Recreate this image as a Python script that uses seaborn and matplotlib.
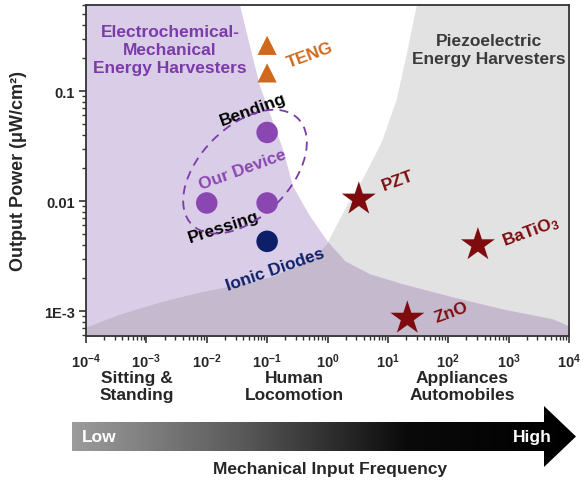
import matplotlib
matplotlib.use("Agg")
import matplotlib.pyplot as plt
import matplotlib.transforms as mtransforms
from matplotlib.collections import LineCollection
from matplotlib.colors import LinearSegmentedColormap
from matplotlib.patches import Ellipse, Polygon
from matplotlib.ticker import NullLocator
import numpy as np
import seaborn as sns

# ---- marker data (frequency in Hz, power in uW/cm2) ----
teng_freq = [0.1, 0.1]
teng_power = [0.26, 0.146]
device_freq = [0.1, 0.01, 0.1]
device_power = [0.042, 0.0096, 0.0096]
diode_freq = [0.1]
diode_power = [0.0043]
piezo_names = ["PZT", "BaTiO$_3$", "ZnO"]
piezo_freq = [3.3, 310, 21]
piezo_power = [0.0104, 0.004, 0.00086]

# ---- region boundaries ----
echem_edge_freq = [0.028, 0.0355, 0.052, 0.076, 0.12, 0.183, 0.267, 0.512, 1.02]
echem_edge_power = [1.0, 0.605, 0.256, 0.111, 0.0556, 0.0297, 0.0137, 0.0073, 0.00424]
echem_floor_freq = [1.02, 1.94, 5.03, 17.7, 119, 802, 5400, 10000, 20000]
echem_floor_power = [0.00424, 0.00285, 0.00217, 0.00176, 0.00134, 0.00104, 0.000846, 0.000731, 0.000731]
piezo_edge_freq = [36.5, 30.2, 21.4, 14.1, 7.96, 3.85, 2.09, 1.02]
piezo_edge_power = [1.0, 0.605, 0.241, 0.0846, 0.0344, 0.0158, 0.0090, 0.00424]
piezo_floor_freq = [1e-5, 1e-4, 3.66e-4, 1.68e-3, 7.7e-3, 0.0355, 0.111, 0.288, 0.618, 1.02]
piezo_floor_power = [0.000716, 0.000716, 0.00094, 0.00121, 0.00149, 0.00176, 0.00204, 0.00251, 0.00316, 0.00424]

xtick_vals = [1e-4, 1e-3, 1e-2, 1e-1, 1e0, 1e1, 1e2, 1e3, 1e4]
xtick_labels = [r"$\mathbf{10^{%d}}$" % e for e in range(-4, 5)]
ytick_vals = [1e-3, 1e-2, 1e-1]
ytick_labels = ["1E-3", "0.01", "0.1"]
category_labels = ["Sitting &\nStanding", "Human\nLocomotion", "Appliances\nAutomobiles"]

purple_bg = "#dacde7"
gray_bg = "#e2e2e2"
overlap_bg = "#c5b9cd"
purple = "#8a46b1"
purple_text = "#7b3bab"
navy = "#0c1f68"
orange = "#d0691d"
darkred = "#7e0c0e"
axis_col = "#333333"

sns.set_theme(style="ticks")
plt.rcParams["font.family"] = ["Liberation Sans", "DejaVu Sans"]
plt.rcParams["font.weight"] = "bold"
plt.rcParams["mathtext.fontset"] = "custom"
plt.rcParams["mathtext.rm"] = "Liberation Sans:bold"
plt.rcParams["mathtext.bf"] = "Liberation Sans:bold"
plt.rcParams["mathtext.it"] = "Liberation Sans:bold"

fig = plt.figure(figsize=(5.85, 4.85), dpi=100)
ax = fig.add_axes([86 / 585, 1 - 337 / 485, 483 / 585, 331 / 485])
ax.set_xscale("log")
ax.set_yscale("log")
ax.set_xlim(1e-4, 1e4)
ax.set_ylim(5.93e-4, 0.605)

# background regions
gray_x = [20000] + piezo_edge_freq + piezo_floor_freq[::-1][1:] + [1e-5, 20000]
gray_y = [1.0] + piezo_edge_power + piezo_floor_power[::-1][1:] + [1e-4, 1e-4]
ax.fill(gray_x, gray_y, color=gray_bg, lw=0, zorder=0)
purple_x = [1e-5] + echem_edge_freq + echem_floor_freq[1:] + [20000, 1e-5]
purple_y = [1.0] + echem_edge_power + echem_floor_power[1:] + [1e-4, 1e-4]
ax.fill(purple_x, purple_y, color=purple_bg, lw=0, zorder=0.5)
floor_x = piezo_floor_freq + echem_floor_freq[1:]
floor_y = piezo_floor_power + echem_floor_power[1:]
ax.fill_between(floor_x, 1e-4, floor_y, color=overlap_bg, lw=0, zorder=1)

# markers
sns.scatterplot(x=teng_freq, y=teng_power, marker="^", s=190, color=orange,
                edgecolor="none", ax=ax, zorder=5)
sns.scatterplot(x=device_freq, y=device_power, marker="o", s=240, color=purple,
                edgecolor="none", ax=ax, zorder=5)
sns.scatterplot(x=diode_freq, y=diode_power, marker="o", s=240, color=navy,
                edgecolor="none", ax=ax, zorder=5)
sns.scatterplot(x=piezo_freq, y=piezo_power, marker="*", s=660, color=darkred,
                edgecolor="none", ax=ax, zorder=5)

# dashed ellipse around our device (size in inches, centre in data)
ell_tr = fig.dpi_scale_trans + mtransforms.ScaledTranslation(0.043, 0.0185, ax.transData)
ax.add_patch(Ellipse((0, 0), 1.5, 0.9, angle=45, fill=False, ec=purple_text, lw=1.3,
                     ls=(0, (5, 3.5)), transform=ell_tr, zorder=4))

rot = 20
fs = 12.5
ax.annotate("TENG", (teng_freq[0], teng_power[0]), xytext=(31, -6.5), textcoords="offset points",
            ha="center", va="center", rotation=rot, color=orange, fontsize=fs, fontweight="bold")
ax.annotate("Bending", (device_freq[0], device_power[0]), xytext=(-10, 16.5), textcoords="offset points",
            ha="center", va="center", rotation=rot, color="black", fontsize=fs, fontweight="bold")
ax.annotate("Our Device", (device_freq[0], device_power[0]), xytext=(-18, -26.5), textcoords="offset points",
            ha="center", va="center", rotation=rot, color=purple, fontsize=fs, fontweight="bold")
ax.annotate("Pressing", (device_freq[2], device_power[2]), xytext=(-31, -17), textcoords="offset points",
            ha="center", va="center", rotation=18, color="black", fontsize=fs, fontweight="bold")
ax.annotate("Ionic Diodes", (diode_freq[0], diode_power[0]), xytext=(6, -20), textcoords="offset points",
            ha="center", va="center", rotation=19, color=navy, fontsize=fs, fontweight="bold")
piezo_offsets = [(28, 13.5), (38, 10), (32, 4.5)]
for name, fx, py, off in zip(piezo_names, piezo_freq, piezo_power, piezo_offsets):
    ax.annotate(name, (fx, py), xytext=off, textcoords="offset points", ha="center", va="center",
                rotation=rot, color=darkred, fontsize=fs, fontweight="bold")

ax.text(0.174, 0.867, "Electrochemical-\nMechanical\nEnergy Harvesters", transform=ax.transAxes,
        ha="center", va="center", color=purple_text, fontsize=fs, fontweight="bold",
        linespacing=1.25, zorder=6)
ax.text(0.834, 0.867, "Piezoelectric\nEnergy Harvesters", transform=ax.transAxes,
        ha="center", va="center", color="#3b3b3b", fontsize=fs, fontweight="bold",
        linespacing=1.25, zorder=6)

# axes styling
ax.set_xticks(xtick_vals)
ax.set_xticklabels(xtick_labels, fontsize=10.5)
ax.set_yticks(ytick_vals)
ax.set_yticklabels(ytick_labels, fontsize=10.5, fontweight="bold")
ax.xaxis.set_minor_locator(NullLocator())
ax.yaxis.set_minor_locator(NullLocator())
ax.tick_params(which="major", direction="out", length=5, width=1.2, color=axis_col, pad=3)
ax.tick_params(axis="x", which="major", pad=6)
for sp in ax.spines.values():
    sp.set_visible(True)
    sp.set_color(axis_col)
    sp.set_linewidth(1.3)

# minor ticks drawn as short outward strokes
x_minor = [k * 10.0 ** e for e in range(-4, 4) for k in range(2, 10)]
y_minor = [k * 10.0 ** e for e in range(-4, 0) for k in range(2, 10)]
y_minor = [v for v in y_minor if 5.93e-4 <= v <= 0.605]
ax.add_collection(LineCollection([[(v, 0), (v, -0.011)] for v in x_minor],
                                 transform=ax.get_xaxis_transform(), clip_on=False,
                                 colors=axis_col, linewidths=1.0))
ax.add_collection(LineCollection([[(0, v), (-0.0075, v)] for v in y_minor],
                                 transform=ax.get_yaxis_transform(), clip_on=False,
                                 colors=axis_col, linewidths=1.0))

ax.set_ylabel("Output Power (\u03bcW/cm\u00b2)", fontsize=13, fontweight="bold", labelpad=10)
ax.yaxis.set_label_coords(-0.123, 0.5)

for label, xc in zip(category_labels, [137, 294, 462]):
    fig.text(xc / 585, 1 - 387 / 485, label, ha="center", va="center", fontsize=fs,
             fontweight="bold", linespacing=1.15)
fig.text(330 / 585, 1 - 470 / 485, "Mechanical Input Frequency", ha="center", va="center",
         fontsize=fs, fontweight="bold")

# gradient arrow
arr = fig.add_axes([72 / 585, 1 - 468 / 485, 504 / 585, 61 / 485])
arr.set_xlim(0, 504)
arr.set_ylim(61, 0)
arr.axis("off")
shape = Polygon([(0, 16), (472, 16), (472, 0), (504, 30.5), (472, 61), (472, 45), (0, 45)],
                closed=True, facecolor="none", edgecolor="none")
arr.add_patch(shape)
cmap = LinearSegmentedColormap.from_list("grad", ["#9c9c9c", "#5a5a5a", "#0a0a0a", "#000000"])
grad = np.linspace(0, 1, 256).reshape(1, -1)
im = arr.imshow(grad, cmap=cmap, extent=(0, 504, 61, 0), aspect="auto")
im.set_clip_path(shape)
arr.text(10, 31, "Low", color="white", ha="left", va="center", fontsize=fs, fontweight="bold")
arr.text(480, 31, "High", color="white", ha="right", va="center", fontsize=fs, fontweight="bold")

fig.savefig("out.png", dpi=100)
